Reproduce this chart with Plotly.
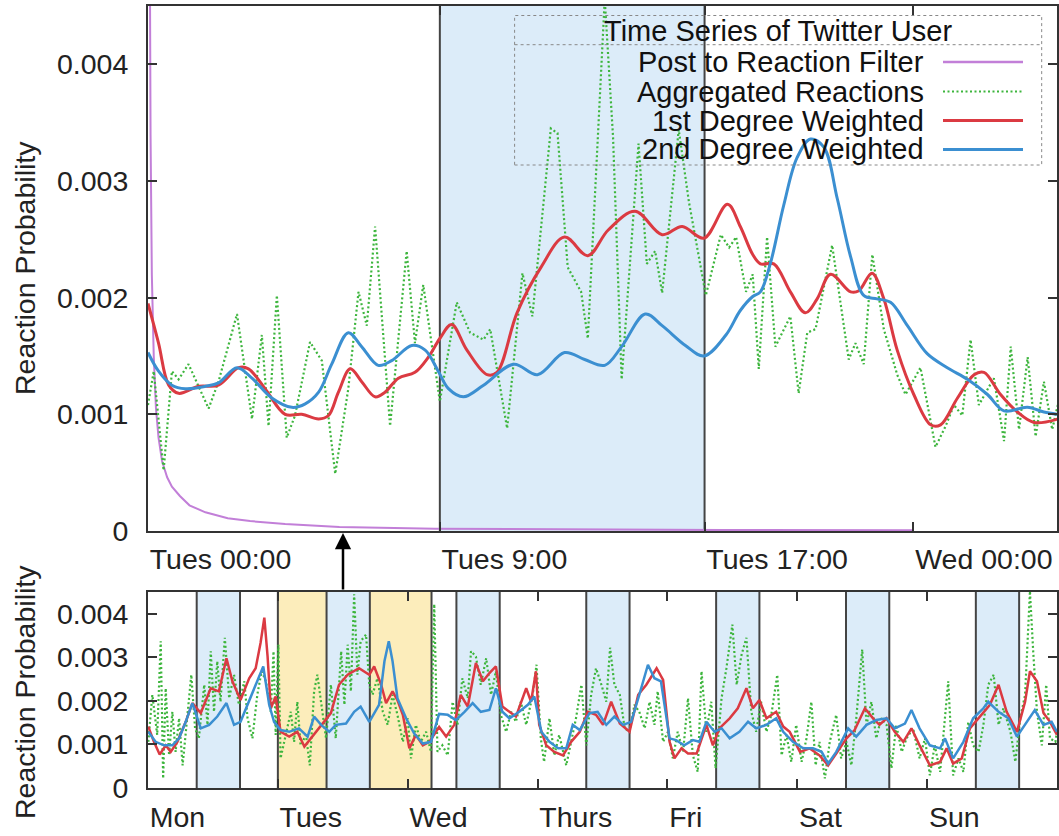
import plotly.graph_objects as go

# ---------------- data (values in units of 1e-3) ----------------
SCALE = 1e-3

# top panel: hours after Tues 00:00
TOP_PURPLE_T = [0.0, 0.04, 0.08, 0.12, 0.18, 0.25, 0.33, 0.44, 0.6, 0.75, 1.0, 1.3, 1.8, 2.5, 3.2, 4.3, 6.0, 9.0, 13.0, 18.0, 24.0]
TOP_PURPLE_V = [9.0, 5.5, 3.4, 2.2, 1.5, 1.05, 0.8, 0.6, 0.46, 0.38, 0.3, 0.22, 0.16, 0.11, 0.085, 0.06, 0.035, 0.02, 0.012, 0.008, 0.006]

TOP_GREEN_T = [0, 0.18, 0.49, 0.75, 0.96, 1.27, 1.90, 2.21, 2.79, 3.26, 3.57, 3.78, 4.04, 4.35, 4.61, 5.08, 5.45, 5.87,
               6.28, 6.60, 6.86, 7.12, 7.59, 8.11, 8.37, 8.63, 9.15, 9.68, 10.1, 10.52, 10.73, 11.26, 11.74, 12.05,
               12.63, 12.84, 13.16, 13.58, 13.79, 14.32, 14.58, 14.85, 15.38, 15.64, 15.9, 16.12, 16.64, 16.96,
               17.49, 17.96, 18.22, 18.44, 18.75, 18.96, 19.15, 19.41, 19.67, 20.14, 20.4, 20.67, 20.93, 21.45,
               21.97, 22.18, 22.44, 22.71, 23.07, 23.49, 23.75, 24.22, 24.69, 25.01, 25.27, 25.53, 25.79, 26.05,
               26.52, 26.84, 27.05, 27.31, 27.58, 27.83, 28.09, 28.35, 28.55]
TOP_GREEN_V = [1.08, 1.37, 0.52, 1.37, 1.30, 1.43, 1.05, 1.28, 1.86, 0.96, 1.68, 0.90, 2.02, 0.80, 0.99, 1.62, 1.46, 0.49,
               1.22, 2.05, 1.76, 2.61, 0.90, 2.40, 1.61, 2.11, 1.11, 1.96, 1.70, 1.64, 1.73, 0.88, 2.21, 1.84,
               3.45, 3.41, 2.26, 2.05, 1.65, 4.56, 3.38, 1.30, 3.32, 2.29, 2.40, 2.04, 3.44, 2.82,
               2.02, 2.54, 2.43, 2.52, 2.05, 2.20, 1.39, 2.52, 1.58, 1.84, 1.18, 1.70, 1.73, 2.45,
               1.47, 1.61, 1.43, 2.37, 1.73, 1.34, 1.17, 1.40, 0.72, 0.90, 1.08, 0.99, 1.64, 1.08,
               1.31, 0.77, 1.58, 0.87, 1.49, 0.81, 1.28, 0.87, 1.11]

TOP_RED_T = [0, 0.33, 0.65, 0.96, 1.59, 2.21, 2.84, 3.15, 3.67, 4.30, 4.82, 5.35, 5.66, 5.97, 6.34, 6.70, 7.12, 7.43,
             7.85, 8.37, 8.79, 9.15, 9.52, 10.0, 10.63, 10.94, 11.57, 12.32, 13.06, 13.79, 14.43, 15.27, 16.12,
             16.75, 17.43, 18.17, 18.57, 18.96, 19.2, 19.62, 20.14, 20.61, 20.98, 21.4, 22.03, 22.29, 22.7, 23.07,
             23.49, 24.01, 24.54, 24.85, 25.38, 25.9, 26.21, 26.73, 27.26, 27.78, 28.52]
TOP_RED_V = [1.95, 1.61, 1.25, 1.18, 1.24, 1.25, 1.40, 1.39, 1.22, 1.00, 1.00, 0.96, 0.99, 1.19, 1.39, 1.28, 1.15, 1.19,
             1.31, 1.36, 1.49, 1.65, 1.77, 1.55, 1.34, 1.36, 1.87, 2.26, 2.52, 2.36, 2.58, 2.74, 2.54,
             2.61, 2.51, 2.80, 2.61, 2.37, 2.29, 2.29, 2.05, 1.87, 1.99, 2.20, 2.05, 2.06, 2.21, 1.99,
             1.55, 1.17, 0.91, 0.91, 1.14, 1.34, 1.36, 1.17, 1.02, 0.93, 0.96]

TOP_BLUE_T = [0, 0.33, 0.75, 1.17, 1.80, 2.21, 2.79, 3.26, 3.88, 4.51, 4.93, 5.35, 5.76, 6.28, 6.70, 7.22, 7.64, 8.27,
              8.69, 9.10, 9.42, 9.89, 10.52, 11.47, 12.21, 13.06, 13.69, 14.32, 14.85, 15.59, 16.12, 16.85, 17.43,
              18.12, 18.57, 18.96, 19.2, 19.51, 19.93, 20.35, 20.77, 21.19, 21.61, 22.03, 22.44, 22.86, 23.28,
              23.81, 24.43, 25.06, 25.69, 26.32, 26.84, 27.57, 28.09, 28.52]
TOP_BLUE_V = [1.53, 1.37, 1.25, 1.22, 1.24, 1.27, 1.40, 1.31, 1.14, 1.06, 1.09, 1.19, 1.43, 1.70, 1.58, 1.42, 1.46, 1.59,
              1.55, 1.37, 1.22, 1.15, 1.25, 1.43, 1.34, 1.53, 1.47, 1.42, 1.58, 1.86, 1.76, 1.59, 1.50,
              1.68, 1.89, 2.01, 2.05, 2.29, 2.79, 3.20, 3.36, 3.29, 2.85, 2.35, 2.02, 1.99, 1.96,
              1.76, 1.52, 1.40, 1.30, 1.17, 1.03, 1.06, 1.02, 1.00]

TOP_TICK_POS = [0, 9.15, 17.45, 24]
TOP_TICK_TEXT = ["Tues 00:00", "Tues 9:00", "Tues 17:00", "Wed 00:00"]
TOP_RANGE = [0, 28.5]
TOP_BAND = [9.15, 17.45]

# bottom panel: hours after Mon 00:00
BOT_GREEN_T = [0.06, 0.8, 1.7, 2.35, 2.8, 3.27, 3.9, 4.5, 5.1, 5.74, 6.4, 7.3, 8, 8.7, 9.4, 10.4, 11, 11.6, 12.2, 12.8,
               13.4, 14.2, 15, 15.9, 16.8, 17.8, 18.4, 19.3, 20.2, 21, 21.8, 22.7, 23.2, 23.6, 24.1, 24.5, 25.5,
               26.4, 27, 27.6, 28.2, 29.2, 29.9, 30.7, 31.3, 32, 32.9, 33.8, 34.7, 35.7, 36.3, 36.9, 37.5, 38.1,
               38.7, 39.3, 40.3, 40.9, 41.5, 42.4, 43.4, 44.3, 45.2, 46.1, 47.1, 48, 48.6, 49.5, 50.4, 51.4, 52.3,
               52.9, 53.5,
               54.4, 55.4, 56.3, 57.2, 58.1, 59.1, 59.7, 60.6, 61.5, 62.5, 63.4, 64.3, 65.2, 66.2, 67.1, 68, 68.9,
               69.9, 71.1, 71.8, 72.6, 73.2, 74.2, 75.1, 76, 77.3, 78.2, 79.1, 80.1, 81, 81.9, 82.8, 83.8, 84.7,
               85.4, 86.2, 87.2, 88.1, 89, 89.9, 90.8, 91.8, 92.7, 93.6, 94.2, 95.2, 96.1, 97, 97.9, 98.9, 99.8,
               100.7, 101.6, 102.3, 103.2, 104.1, 104.9, 106, 106.9, 108, 108.8, 109.7,
               110.6, 111.5, 112.4, 113.3, 114.3, 115.2, 116.3, 117.1, 118, 118.9, 119.8, 120.8, 121.7, 122.6,
               123.4, 124.1, 125.1, 126, 127.2, 128.1, 129.1, 130, 130.9, 132, 132.8, 133.7, 134.6, 135.5, 136.5,
               137.4, 138.3, 139.3, 140.2, 141.4, 142.6, 143.6, 144.5, 145.4, 146.4, 147.1, 147.9, 148.8, 149.8,
               150.7, 151.6, 152.5, 153.5, 154.4, 155.3, 156.3, 157.2, 158.1, 159.4, 160.3, 161.2, 162.1, 163,
               163.6, 164.3, 165.2, 166, 166.7, 167.7, 168]
BOT_GREEN_V = [1.06, 2.14, 1.22, 3.37, 0.22, 2.29, 0.75, 1.75, 0.83, 1.60, 0.52, 1.75, 2.60, 1.37, 1.14, 2.37, 1.45,
               3.14, 1.75, 2.91, 1.98, 3.45, 2.06, 2.60, 1.91, 2.45, 1.60, 1.14, 2.14, 2.68, 2.45, 1.75, 3.14, 1.22,
               3.29, 0.68, 1.22, 1.75, 1.06, 1.98, 0.98, 1.22, 0.52, 2.22, 2.60, 1.98, 1.14, 2.37, 1.14, 3.14, 1.91,
               3.29, 2.22, 4.45, 2.60, 3.37, 3.52, 2.37, 2.14, 2.52, 1.75, 1.45, 2.14, 1.68, 1.06, 1.60, 0.68, 1.45,
               1.06, 1.29, 0.83, 4.22, 0.83,
               0.98, 0.75, 1.98, 1.45, 2.52, 2.06, 3.14, 3.02, 2.37, 2.98, 2.14, 2.68, 1.68, 1.29, 1.75, 1.52, 1.98,
               1.45, 2.14, 2.83, 1.14, 0.60, 1.60, 0.75, 1.22, 0.52, 1.06, 1.60, 2.37, 0.98, 2.14, 2.75, 2.37, 1.98,
               3.22, 2.37, 2.14, 1.37, 1.29, 1.91, 1.75, 1.37, 1.98, 1.45, 2.22, 1.06, 1.29, 0.68, 1.29, 0.83, 2.06,
               0.75, 0.37, 2.68, 1.29, 1.98, 0.45, 2.06, 2.75, 3.75, 2.37, 3.06,
               3.45, 1.75, 1.29, 1.98, 1.29, 1.68, 2.60, 0.75, 1.22, 0.60, 1.45, 0.60, 1.14, 1.98, 0.52, 1.06, 0.22,
               1.06, 1.68, 0.68, 1.06, 0.52, 1.60, 3.18, 1.45, 1.98, 1.14, 1.60, 1.45, 0.45, 1.45, 0.83, 1.14, 1.37,
               0.68, 1.14, 0.29, 0.98, 0.37, 1.37, 2.45, 0.29, 0.68, 0.37, 1.52, 0.98, 0.83, 1.45, 2.37, 2.60, 1.45,
               1.83, 1.29, 0.60, 1.60, 2.14, 4.52, 3.14, 1.75, 0.98, 2.37, 1.14, 1.06, 1.29]

BOT_RED_T = [0.06, 1.1, 2.16, 3.27, 4.2, 5.43, 6.97, 8.2, 9.75, 11.6, 13.1, 14.5, 15.6, 17.1, 18.7, 19.9, 20.8, 21.5,
             22.1, 22.7, 23.6, 24.5, 26.1, 27.6, 28.9, 30.4, 32, 33.8, 35.3, 36.9, 39, 40.9, 41.8, 43.1, 44, 45.2,
             46.1, 47.1, 48.3, 49.5, 50.8, 52, 53.8,
             55.1, 56.6, 57.8, 59.1, 60.6, 61.9, 63.1, 64.3, 65.5, 66.8, 68, 69.9, 70.8, 71.7, 72.3, 73.6, 75.1,
             76.7, 78.2, 79.8, 81.3, 82.8, 84.1, 85.6, 87.2, 89, 90.6, 92.1, 94, 95.2, 96.4, 97.3, 98.6, 99.8,
             101.4, 103.2, 104.4, 105.6, 107.5, 109,
             110.6, 111.8, 113, 114.3, 116.1, 117.4, 118.6, 120.5, 122.3, 124.1, 125.7, 127.2, 129.1, 130.6, 132.5,
             134, 135.2, 136.5, 138, 139.6, 141.1, 142.6, 144.5, 146.4, 147.6, 148.8, 150.4, 151.9, 153.8, 155.6,
             157.2, 158.7, 160.6, 162.1, 163, 164.3, 165.5, 166.7, 168]
BOT_RED_V = [1.41, 1.06, 0.77, 0.98, 0.83, 1.06, 1.52, 1.95, 1.72, 2.29, 2.22, 2.98, 2.45, 2.02, 2.52, 2.75, 3.33, 3.91,
             3.02, 1.83, 2.10, 1.29, 1.18, 1.29, 0.95, 1.18, 1.45, 1.72, 2.37, 2.60, 2.75, 2.60, 2.79, 2.37, 1.95,
             2.22, 2.02, 1.68, 0.91, 1.22, 0.98, 1.06, 1.40,
             1.18, 1.45, 2.14, 1.87, 2.87, 2.45, 2.64, 2.79, 1.87, 1.75, 1.64, 2.29, 1.98, 2.68, 1.45, 0.98, 0.83,
             0.75, 1.06, 1.29, 1.75, 1.68, 1.45, 1.98, 1.48, 1.29, 2.14, 2.37, 2.75, 2.48, 1.06, 0.68, 0.91, 0.79,
             0.79, 1.45, 0.98, 1.37, 1.60, 1.83,
             2.29, 1.83, 2.02, 1.60, 1.75, 1.41, 1.29, 0.83, 0.91, 0.75, 0.52, 0.79, 1.14, 1.33, 1.83,
             1.60, 1.45, 1.60, 1.29, 1.06, 1.37, 0.98, 0.52, 0.60, 0.91, 0.56, 0.68, 1.37, 1.64, 1.91,
             2.37, 1.75, 1.29, 1.98, 2.68, 2.45, 1.72, 1.52, 1.22]

BOT_BLUE_T = [0.06, 1.4, 2.97, 4.5, 5.74, 6.97, 8.2, 9.75, 11.3, 12.8, 14.5, 15.9, 17.1, 18.7, 20.2, 21.3, 22.4, 23.3,
              24.5, 26.1, 27.9, 29.5, 30.7, 32, 33.5, 34.7, 36.6, 38.1, 39.3, 40.9, 42.7, 43.7, 44.5, 45.2, 46.1,
              47.7, 49.2, 50.8, 52.3, 53.8,
              55.4, 56.9, 58.5, 60, 61.5, 63.1, 64.3, 65.5, 66.8, 68.6, 70.2, 71.4, 72.7, 74.2, 75.8, 77.3, 78.5,
              79.8, 81.6, 83.1, 84.7, 86.2, 87.8, 89.3, 90.8, 92.4, 93.6, 94.8, 96.4, 97.6, 99.1, 100.7, 101.9,
              103.2, 104.7, 106, 107.5, 109.3,
              110.9, 112.4, 114.3, 116.1, 117.4, 119.2, 121.1, 122.9, 124.5, 125.7, 127.2, 129.4, 130.9, 132.8,
              134.6, 136.5, 138, 139.9, 141.1, 142.6, 144.5, 146.4, 147.3, 148.8, 150.7, 152.5, 154.4, 155.3,
              157.2, 159, 160.6, 162.4, 163.9, 165.5, 167, 168]
BOT_BLUE_V = [1.29, 1.06, 0.98, 0.98, 1.14, 1.52, 1.95, 1.37, 1.45, 1.64, 1.95, 1.45, 1.52, 2.02, 2.45, 2.79, 1.91, 1.52,
              1.33, 1.29, 1.37, 1.18, 1.64, 1.45, 1.29, 1.45, 1.48, 1.75, 1.87, 1.52, 1.91, 2.91, 3.37, 2.91, 2.06,
              1.60, 1.25, 1.02, 1.06, 1.70,
              1.68, 1.56, 1.75, 1.95, 1.75, 1.79, 2.29, 1.75, 1.60, 1.75, 1.91, 2.10, 1.29, 1.06, 0.91, 0.91, 1.45,
              1.33, 1.72, 1.75, 1.45, 1.64, 1.45, 1.52, 2.14, 2.83, 2.52, 2.45, 1.14, 1.10, 0.98, 1.10, 1.06,
              1.52, 1.29, 1.37, 1.14, 1.29,
              1.52, 1.37, 1.45, 1.60, 1.29, 1.06, 0.91, 0.91, 0.83, 0.56, 0.83, 1.37, 1.18, 1.45,
              1.56, 1.60, 1.37, 1.48, 1.79, 1.37, 0.98, 0.91, 1.14, 0.68, 1.06, 1.60, 1.83, 1.98,
              1.75, 1.60, 1.18, 1.52, 1.79, 1.45, 1.52, 1.29]

DAY_NAMES = ["Mon", "Tues", "Wed", "Thurs", "Fri", "Sat", "Sun"]
DAY_TICKS = [0, 24, 48, 72, 96, 120, 144]
BOT_RANGE = [0, 168]
WORK_START, WORK_END = 9, 17
YELLOW_SPANS = [[24, 33], [41, 52.4]]

Y_TICKS = [0, 0.001, 0.002, 0.003, 0.004]
Y_TICK_TEXT = ["0", "0.001", "0.002", "0.003", "0.004"]
Y_RANGE = [0, 0.0045]

LEGEND_TITLE = "Time Series of Twitter User"
LEGEND_NAMES = ["Post to Reaction Filter", "Aggregated Reactions", "1st Degree Weighted", "2nd Degree Weighted"]

# ---------------- styles ----------------
PURPLE = "#c27fd8"
GREEN = "#3db53d"
RED = "#db3a42"
BLUE = "#3b8fd1"
BAND_BLUE = "#dcecf9"
BAND_YELLOW = "#fcedbb"
AXIS = "#333333"
FONT = "Liberation Sans, Arial, Helvetica, sans-serif"
FS = 28.5

W, H = 1059, 836
ML, MR, MT, MB = 148, 2, 6, 48
PW, PH = W - ML - MR, H - MT - MB


def px_x(p):
    return (p - ML) / PW


def px_y(p):
    return (H - MB - p) / PH


def sc(vals):
    return [v * SCALE for v in vals]


GREEN_DASH = "2px,2.5px"

fig = go.Figure()

# top panel traces
fig.add_trace(go.Scatter(x=TOP_PURPLE_T, y=sc(TOP_PURPLE_V), mode="lines", xaxis="x", yaxis="y",
                         line=dict(color=PURPLE, width=2), showlegend=False, name=LEGEND_NAMES[0]))
fig.add_trace(go.Scatter(x=TOP_GREEN_T, y=sc(TOP_GREEN_V), mode="lines", xaxis="x", yaxis="y",
                         line=dict(color=GREEN, width=2.2, dash=GREEN_DASH), showlegend=False, name=LEGEND_NAMES[1]))
fig.add_trace(go.Scatter(x=TOP_RED_T, y=sc(TOP_RED_V), mode="lines", xaxis="x", yaxis="y",
                         line=dict(color=RED, width=3, shape="spline", smoothing=1.0), showlegend=False,
                         name=LEGEND_NAMES[2]))
fig.add_trace(go.Scatter(x=TOP_BLUE_T, y=sc(TOP_BLUE_V), mode="lines", xaxis="x", yaxis="y",
                         line=dict(color=BLUE, width=3, shape="spline", smoothing=1.0), showlegend=False,
                         name=LEGEND_NAMES[3]))

# bottom panel traces
fig.add_trace(go.Scatter(x=BOT_GREEN_T, y=sc(BOT_GREEN_V), mode="lines", xaxis="x2", yaxis="y2",
                         line=dict(color=GREEN, width=2.2, dash=GREEN_DASH), showlegend=False))
fig.add_trace(go.Scatter(x=BOT_RED_T, y=sc(BOT_RED_V), mode="lines", xaxis="x2", yaxis="y2",
                         line=dict(color=RED, width=2.5), showlegend=False))
fig.add_trace(go.Scatter(x=BOT_BLUE_T, y=sc(BOT_BLUE_V), mode="lines", xaxis="x2", yaxis="y2",
                         line=dict(color=BLUE, width=2.5), showlegend=False))

shapes = []
# top band
shapes.append(dict(type="rect", xref="x", yref="y domain", x0=TOP_BAND[0], x1=TOP_BAND[1], y0=0, y1=1,
                   fillcolor=BAND_BLUE, line=dict(width=0), layer="below"))
for xv in TOP_BAND:
    shapes.append(dict(type="line", xref="x", yref="y domain", x0=xv, x1=xv, y0=0, y1=1,
                       line=dict(color="#444", width=2), layer="below"))

# bottom bands
edges = []
for d in DAY_TICKS:
    s, e = d + WORK_START, d + WORK_END
    shapes.append(dict(type="rect", xref="x2", yref="y2 domain", x0=s, x1=e, y0=0, y1=1,
                       fillcolor=BAND_BLUE, line=dict(width=0), layer="below"))
    edges += [s, e]
for s, e in YELLOW_SPANS:
    shapes.append(dict(type="rect", xref="x2", yref="y2 domain", x0=s, x1=e, y0=0, y1=1,
                       fillcolor=BAND_YELLOW, line=dict(width=0), layer="below"))
    edges += [s, e]
for xv in sorted(set(edges)):
    shapes.append(dict(type="line", xref="x2", yref="y2 domain", x0=xv, x1=xv, y0=0, y1=1,
                       line=dict(color="#444", width=2), layer="below"))

# manual legend (gnuplot style: text right-aligned, sample to the right)
LBOX = (514.6, 1041.7, 15.5, 165.0)
shapes.append(dict(type="rect", xref="paper", yref="paper", x0=px_x(LBOX[0]), x1=px_x(LBOX[1]),
                   y0=px_y(LBOX[3]), y1=px_y(LBOX[2]), line=dict(color="#888", width=1, dash="dot"),
                   fillcolor="rgba(0,0,0,0)", layer="above"))
shapes.append(dict(type="line", xref="paper", yref="paper", x0=px_x(LBOX[0]), x1=px_x(LBOX[1]),
                   y0=px_y(44.7), y1=px_y(44.7), line=dict(color="#888", width=1, dash="dot"), layer="above"))
ROW_Y = [62, 91.5, 120.5, 149.5]
SAMPLE_STYLES = [dict(color=PURPLE, width=2.5), dict(color=GREEN, width=2.2, dash=GREEN_DASH),
                 dict(color=RED, width=3), dict(color=BLUE, width=3)]
annotations = []
annotations.append(dict(xref="paper", yref="paper", x=px_x((LBOX[0] + LBOX[1]) / 2), y=px_y(31),
                        text=LEGEND_TITLE, showarrow=False, xanchor="center", yanchor="middle",
                        font=dict(family=FONT, size=29, color="#111")))
for name, ry, st in zip(LEGEND_NAMES, ROW_Y, SAMPLE_STYLES):
    annotations.append(dict(xref="paper", yref="paper", x=px_x(926), y=px_y(ry), text=name, showarrow=False,
                            xanchor="right", yanchor="middle", font=dict(family=FONT, size=29, color="#111")))
    shapes.append(dict(type="line", xref="paper", yref="paper", x0=px_x(943), x1=px_x(1023),
                       y0=px_y(ry), y1=px_y(ry), line=st, layer="above"))

# arrow from overview to zoomed panel
annotations.append(dict(xref="paper", yref="paper", x=px_x(343), y=px_y(533), ax=0, ay=58, text="",
                        showarrow=True, arrowhead=2, arrowsize=1.3, arrowwidth=2.5, arrowcolor="#000"))

# y-axis titles as rotated text
annotations.append(dict(xref="paper", yref="paper", x=px_x(25), y=px_y(268), text="Reaction Probability",
                        showarrow=False, textangle=-90, xanchor="center", yanchor="middle",
                        font=dict(family=FONT, size=FS, color="#222")))
annotations.append(dict(xref="paper", yref="paper", x=px_x(25), y=px_y(692), text="Reaction Probability",
                        showarrow=False, textangle=-90, xanchor="center", yanchor="middle",
                        font=dict(family=FONT, size=FS, color="#222")))

axis_common = dict(showline=True, linecolor=AXIS, linewidth=2, mirror="ticks", ticks="inside", ticklen=9,
                   tickwidth=1.5, tickcolor=AXIS, showgrid=False, zeroline=False, automargin=False,
                   tickfont=dict(family=FONT, size=FS, color="#222"))

top_dom = [px_y(531), 1.0]
bot_dom = [0.0, px_y(592)]

fig.update_layout(
    width=W, height=H, margin=dict(l=ML, r=MR, t=MT, b=MB, pad=0, autoexpand=False),
    paper_bgcolor="white", plot_bgcolor="white",
    font=dict(family=FONT, size=FS, color="#222"),
    xaxis=dict(domain=[0, 1], anchor="y", range=TOP_RANGE, tickvals=TOP_TICK_POS, ticktext=TOP_TICK_TEXT,
               ticklabelposition="outside right", ticklabelstandoff=2, **axis_common),
    yaxis=dict(domain=top_dom, anchor="x", range=Y_RANGE, tickvals=Y_TICKS, ticktext=Y_TICK_TEXT,
               ticklabelstandoff=12, **axis_common),
    xaxis2=dict(domain=[0, 1], anchor="y2", range=BOT_RANGE, tickvals=DAY_TICKS, ticktext=DAY_NAMES,
                ticklabelposition="outside right", ticklabelstandoff=3, **axis_common),
    yaxis2=dict(domain=bot_dom, anchor="x2", range=Y_RANGE, tickvals=Y_TICKS, ticktext=Y_TICK_TEXT,
                ticklabelstandoff=12, **axis_common),
    shapes=shapes, annotations=annotations, showlegend=False,
)

fig.write_html("out.html", config={"displayModeBar": False},
               post_script="document.body.style.margin='0';document.body.style.overflow='hidden';")
